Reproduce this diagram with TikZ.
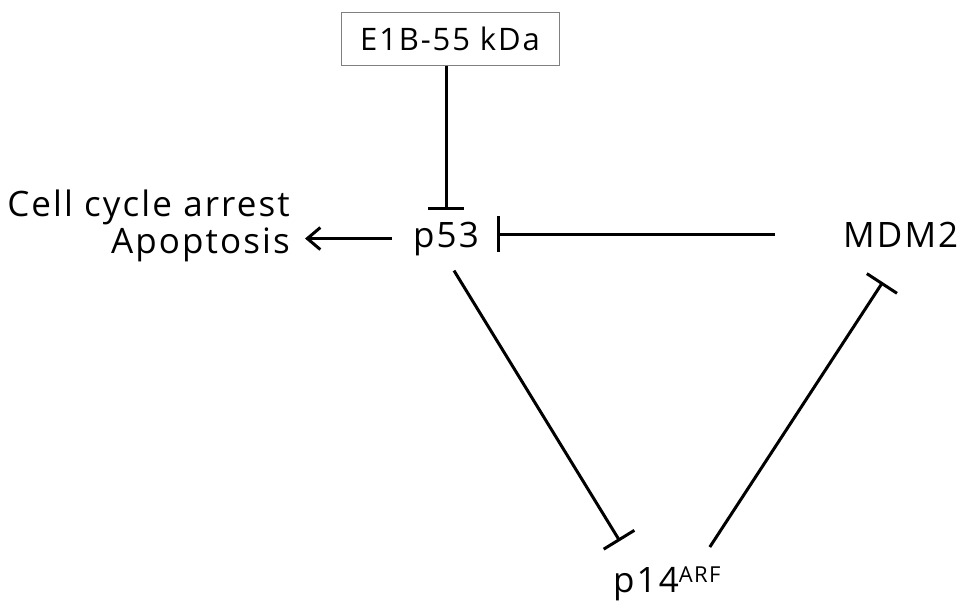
\documentclass[tikz,border=0pt]{standalone}
\usepackage{fontspec}
\setmainfont[LetterSpace=6]{Open Sans}
\usetikzlibrary{arrows.meta}

\begin{document}
\begin{tikzpicture}[x=1pt, y=-1pt,
	label/.style={inner sep=0pt, font=\fontsize{35}{37}\selectfont},
	inhibit/.style={line width=3pt, -{Bar[width=36pt]}},
	activate/.style={line width=3pt, -{Straight Barb[length=13pt, width=22pt]}}]
	\useasboundingbox (0, 0) rectangle (965, 602);

	\node[draw=gray, line width=1pt, minimum width=218pt, minimum height=52pt, inner sep=0pt,
		font=\fontsize{31}{31}\selectfont] (e1b) at (450, 39) {E1B-55 kDa};
	\node[label, anchor=base] (p53) at (446, 247) {p53};
	\node[label, anchor=base west] (mdm2) at (843, 247) {MDM2};
	\node[label, anchor=base west] (p14) at (613, 592) {p14\raisebox{10pt}{\fontsize{22}{22}\selectfont ARF}};
	\node[label, anchor=base east, align=right] (fate) at (290, 253) {Cell cycle arrest\\Apoptosis};

	\draw[inhibit, shorten >=11pt] (e1b.south -| p53.north) -- (p53.north);
	\draw[activate, shorten <=21pt, shorten >=15pt] (p53.west) -- (p53.west -| fate.east);
	\draw[inhibit, shorten <=68pt, shorten >=18pt] (mdm2.west) -- (p53.east |- mdm2.west);
	\draw[inhibit] ([shift={(8, 15)}]p53.south) -- ([shift={(-47, -25)}]p14.north);
	\draw[inhibit] ([shift={(43, -19)}]p14.north) -- ([shift={(-18, 35)}]mdm2.south);
\end{tikzpicture}
\end{document}
